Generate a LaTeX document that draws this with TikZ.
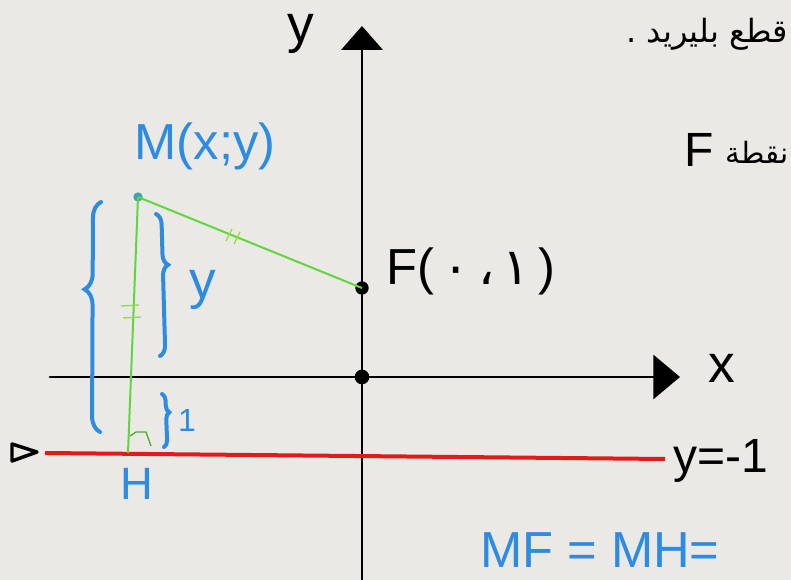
\documentclass[tikz,border=0pt]{standalone}
\usepackage{fontspec}
\setmainfont{Liberation Sans}
\newfontfamily\arabicfont[Script=Arabic]{DejaVu Sans}
\TeXXeTstate=1
\usetikzlibrary{decorations.pathreplacing,arrows.meta}
\definecolor{bg}{RGB}{235,233,229}
\definecolor{hblue}{RGB}{45,140,225}
\definecolor{hgreen}{RGB}{95,215,60}
\definecolor{hred}{RGB}{228,25,25}
\begin{document}
\begin{tikzpicture}[x=0.75pt,y=-0.75pt,
  axis/.style={line width=2.2pt,black,line cap=round},
  lbl/.style={font=\fontsize{34}{34}\selectfont,inner sep=0pt},
  bl/.style={lbl,text=hblue},
  hbrace/.style={draw=hblue,line width=3pt,line cap=round,decorate},
  gline/.style={draw=hgreen,line width=1.5pt},
  tick/.style={draw=hgreen!70!yellow,line width=1pt},
  dotn/.style={circle,fill,inner sep=0pt}]
\fill[bg] (0,0) rectangle (791,580);
\useasboundingbox (0,0) rectangle (791,580);

% axes
\coordinate (ybot) at (362,585);
\coordinate (ytop) at (362,26);
\coordinate (xl) at (50,377);
\coordinate (xr) at (680,377);
\draw[axis,-{Triangle[length=18pt,width=31pt]}] (ybot) -- (ytop);
\draw[axis,-{Triangle[length=20pt,width=33pt]}] (xl) -- (xr);
\node[dotn,minimum size=11pt] (O) at (362,377) {};
\node[dotn,minimum size=10pt] (F) at (362,288) {};
\node[lbl,font=\fontsize{40}{40}\selectfont] (ylab) at (301,34) {y};
\node[lbl,font=\fontsize{40}{40}\selectfont] (xlab) at (722,368) {x};
\node[lbl,anchor=west,font=\fontsize{38}{38}\selectfont] (Flab) at (386,271) {F(\,\arabicfont ٠\,،\,١\,\rmfamily)};

% directrix
\coordinate (dl) at (45,453);
\coordinate (dr) at (665,459);
\draw[hred,line width=3pt] (dl) -- (dr);
\draw[line width=2.6pt,line join=round] (12,444) -- (37,452) -- (12,461) -- cycle;
\node[lbl,anchor=west,font=\fontsize{36}{36}\selectfont] (ylin) at (673,461) {y=-1};

% M and H
\node[dotn,fill=hblue!70!hgreen,minimum size=7pt] (M) at (138,197) {};
\coordinate (H) at (128,453);
\draw[gline] (M.center) -- (F.center);
\draw[gline] (M.center) -- (H);
\draw[tick] (226,241) -- (232,229) (234,244) -- (240,232);
\draw[tick] (121,306) -- (139,305) (123,318) -- (141,317);
\draw[draw=hgreen!80!black,line width=1pt] (130,436) -- (136,432) -- (146,432) -- (151,446);
\node[bl,font=\fontsize{38}{38}\selectfont] (Mlab) at (205,146) {M(x;y)};
\node[bl] (Hlab) at (137,484) {H};

% braces
\draw[hbrace,decoration={brace,amplitude=12pt,aspect=0.62}] (100,432) -- (101,202);
\draw[hbrace,decoration={brace,amplitude=8pt,aspect=0.36}] (156,214) -- (160,356);
\draw[hbrace,decoration={brace,amplitude=5pt,aspect=0.35}] (162,394) -- (164,447);
\node[bl,font=\fontsize{40}{40}\selectfont] (ylabb) at (203,290) {y};
\node[bl,font=\fontsize{24}{24}\selectfont] (one) at (187,420) {1};

% texts
\node[bl,anchor=west,font=\fontsize{38}{38}\selectfont] (eq) at (480,550) {MF = MH=};
\node[lbl,anchor=west,font=\fontsize{36}{36}\selectfont] (F2) at (684,150) {F};
\node[lbl,anchor=east,font=\fontsize{22}{22}\arabicfont] (ar2) at (789,152) {\beginR نقطة\endR};
\node[lbl,anchor=east,font=\fontsize{24}{24}\arabicfont] (ar1) at (788,34) {\beginR قطع بليريد .\endR};
\end{tikzpicture}
\end{document}
